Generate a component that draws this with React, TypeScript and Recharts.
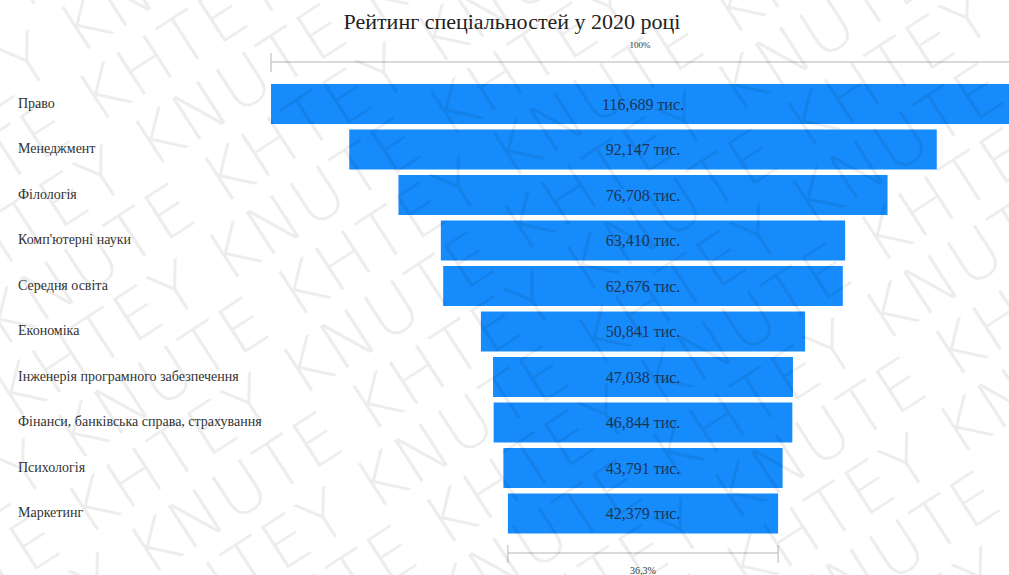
import React from "react";
import { BarChart, Bar, XAxis, YAxis, LabelList } from "recharts";

const categories = [
  "Право",
  "Менеджмент",
  "Філологія",
  "Комп'ютерні науки",
  "Середня освіта",
  "Економіка",
  "Інженерія програмного забезпечення",
  "Фінанси, банківська справа, страхування",
  "Психологія",
  "Маркетинг",
];
const values = [116689, 92147, 76708, 63410, 62676, 50841, 47038, 46844, 43791, 42379];

const W = 1020;
const H = 575;
const PLOT_LEFT = 271;
const PLOT_RIGHT = 5;
const SERIF = "'Liberation Serif', 'Times New Roman', serif";

const maxValue = Math.max(...values);
const minValue = values[values.length - 1];

// centred funnel: transparent spacer + visible bar
const data = categories.map((name, i) => ({
  name,
  value: values[i],
  spacer: (maxValue - values[i]) / 2,
}));

const fmt = (v: number) => `${v.toLocaleString("en-US")} тис.`;

// same linear mapping as the x axis, for the bracket annotations
const plotW = W - PLOT_LEFT - PLOT_RIGHT;
const xOf = (v: number) => PLOT_LEFT + (v / maxValue) * plotW;

function CategoryTick(props: any) {
  const { y, payload } = props;
  return (
    <text
      x={18}
      y={y}
      dy={4}
      textAnchor="start"
      style={{ fontSize: 14, fontFamily: SERIF, fill: "#333" }}
    >
      {payload.value}
    </text>
  );
}

function Watermark() {
  const rows = [];
  for (let i = -6; i < 14; i++) {
    const text = i % 2 === 0 ? "KHTEY KNUTE " : "KNUTE KHTEY ";
    rows.push(
      <text
        key={i}
        x={-500 + (i % 2) * 30}
        y={i * 68}
        style={{
          fontSize: 68,
          fontFamily: "'DejaVu Sans', sans-serif",
          fontWeight: 200,
          fill: "#000",
          fillOpacity: 0.07,
          letterSpacing: 2,
        }}
      >
        {text.repeat(6)}
      </text>
    );
  }
  return (
    <svg
      width={1009}
      height={H}
      style={{ position: "absolute", left: 0, top: 0, pointerEvents: "none" }}
    >
      <g transform="rotate(-33 500 290)">{rows}</g>
    </svg>
  );
}

export default function App() {
  const spacerLast = (maxValue - minValue) / 2;
  const botL = xOf(spacerLast);
  const botR = xOf(spacerLast + minValue);
  const pct = ((minValue / maxValue) * 100).toFixed(1).replace(".", ",");

  return (
    <div
      style={{
        position: "absolute",
        left: 0,
        top: 0,
        width: 1009,
        height: H,
        overflow: "hidden",
        background: "#fff",
      }}
    >
      <BarChart
        width={W}
        height={H}
        data={data}
        layout="vertical"
        margin={{ top: 81, right: PLOT_RIGHT, left: 18, bottom: 39 }}
        barSize={40}
      >
        <XAxis type="number" domain={[0, maxValue]} hide />
        <YAxis
          type="category"
          dataKey="name"
          width={PLOT_LEFT - 18}
          axisLine={false}
          tickLine={false}
          tick={<CategoryTick />}
          interval={0}
        />
        <Bar dataKey="spacer" stackId="f" fill="transparent" isAnimationActive={false} />
        <Bar dataKey="value" stackId="f" fill="#168bfb" isAnimationActive={false}>
          <LabelList
            dataKey="value"
            position="center"
            formatter={(v: any) => fmt(Number(v))}
            style={{ fontSize: 16, fontFamily: SERIF, fill: "#1c3557" }}
          />
        </Bar>
      </BarChart>

      <svg width={1009} height={H} style={{ position: "absolute", left: 0, top: 0 }}>
        <text x={512} y={29} textAnchor="middle" style={{ fontSize: 22, fontFamily: SERIF, fill: "#222" }}>
          Рейтинг спеціальностей у 2020 році
        </text>
        {/* top bracket: 100% */}
        <text
          x={(xOf(0) + xOf(maxValue)) / 2 - 3}
          y={48}
          textAnchor="middle"
          style={{ fontSize: 9, fontFamily: SERIF, fill: "#333" }}
        >
          100%
        </text>
        <line x1={xOf(0)} x2={xOf(maxValue)} y1={62} y2={62} stroke="#b5b5b5" />
        <line x1={xOf(0)} x2={xOf(0)} y1={53} y2={72} stroke="#b5b5b5" />
        <line x1={xOf(maxValue)} x2={xOf(maxValue)} y1={53} y2={72} stroke="#b5b5b5" />
        {/* bottom bracket: share of the last category */}
        <line x1={botL} x2={botR} y1={553} y2={553} stroke="#b5b5b5" />
        <line x1={botL} x2={botL} y1={545} y2={563} stroke="#b5b5b5" />
        <line x1={botR} x2={botR} y1={545} y2={563} stroke="#b5b5b5" />
        <text
          x={(botL + botR) / 2}
          y={574}
          textAnchor="middle"
          style={{ fontSize: 10, fontFamily: SERIF, fill: "#333" }}
        >
          {pct}%
        </text>
      </svg>

      <Watermark />
    </div>
  );
}
